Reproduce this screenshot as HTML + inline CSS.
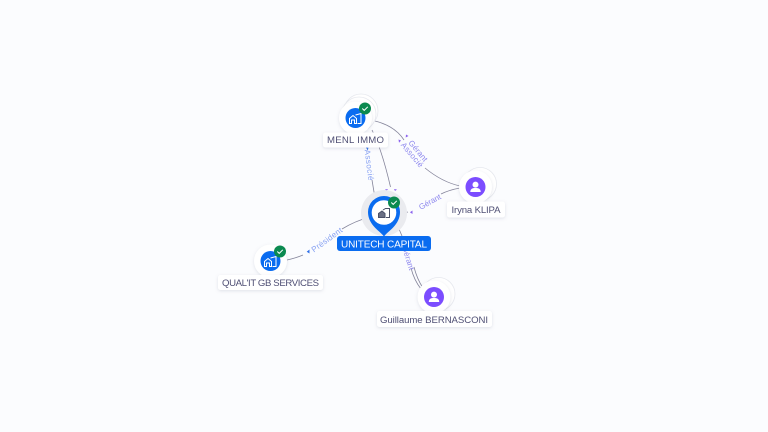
<!DOCTYPE html>
<html><head><meta charset="utf-8">
<style>
html,body{margin:0;padding:0;background:#fbfcfe;width:768px;height:432px;overflow:hidden}
svg{display:block}
text{font-family:"Liberation Sans",sans-serif}
.n{font-size:9.6px;fill:#4f4f74;text-anchor:middle}
.e{font-size:8px;fill:#8f89ee;text-anchor:middle}
.b{font-size:8px;fill:#86a0f2;text-anchor:middle}
.l{fill:none;stroke:#85859b;stroke-width:.8}
</style></head><body>
<svg width="768" height="432" viewBox="0 0 768 432" xmlns="http://www.w3.org/2000/svg">
<defs>
<filter id="s" x="-30%" y="-30%" width="160%" height="160%"><feDropShadow dx="0" dy="1" stdDeviation="1.6" flood-color="#8a8fa8" flood-opacity=".25"/></filter>
<g id="bi" fill="none" stroke="#fff" stroke-width="1"><path d="M-6 5V0L-2.500-3 1 0V5H-1V1.500H-4V5Z"/><path d="M0-3.500 5.500-5V5H2"/></g>
<g id="ok"><circle r="6" fill="#0b8a50"/><path d="M-2.700 0 -.8 1.900 2.800-1.700" fill="none" stroke="#fff" stroke-width="1"/></g>
<g id="pi"><circle r="10" fill="#7c4dff"/><circle cy="-2.400" r="3" fill="#fff"/><path d="M-5.200 5C-5.200 1.800-3 1-0 1S5.200 1.800 5.200 5Z" fill="#fff"/></g>
</defs>

<path class="l" d="M372 180 375 198"/>
<path class="l" d="M372 130Q382 150 390.500 187"/>
<path class="l" d="M375 121Q395 126 404 140"/>
<path class="l" d="M425 168Q442 182 460 186"/>
<path class="l" d="M460 188Q449 190 441 194"/>
<path class="l" d="M408 212 399 214"/>
<path class="l" d="M287 260Q296 258 303 255"/>
<path class="l" d="M342 229Q355 221 370 217"/>
<path class="l" d="M396 222 402 236"/>
<path class="l" d="M411 268Q414 280 421 289"/>
<path class="l" d="M414 267Q417 279 423 288"/>

<g fill="#8b62ee">
<path d="M406 134.500l2.500 1.500-2.800 1.500Z"/><path d="M398.500 139.500l2.500 1-2 2.200Z"/>
<path d="M412.500 210.500v3.500l-2.600-1.700Z"/>
<path d="M385 189.500l3-.5-1.500 2Z"/><path d="M394 189l3 .5-2 1.500Z"/>
</g>
<path d="M309.500 249.500v4l-2.800-1.700Z" fill="#2f6fe8"/>
<path d="M366 147.500l2.500.3-.8 2.700Z" fill="#2f6fe8"/>

<text class="b" transform="translate(369 165) rotate(83)" dy="2.500" textLength="31">Associé</text>
<text class="e" transform="translate(418 151) rotate(50)" dy="2.500" textLength="25">Gérant</text>
<text class="e" transform="translate(412 155) rotate(50)" dy="2.500" textLength="30">Associé</text>
<text class="e" transform="translate(430 202) rotate(-29)" dy="2.500" textLength="24">Gérant</text>
<text class="b" transform="translate(327 240) rotate(-36)" dy="2.500" textLength="36">Président</text>
<text class="e" transform="translate(408 258) rotate(73)" dy="2.500" textLength="25">Gérant</text>

<!-- MENL -->
<circle cx="361" cy="111" r="17" fill="#fff" stroke="#e6e8ee" stroke-width=".8"/>
<circle cx="359" cy="114" r="17" fill="#fff" stroke="#e6e8ee" stroke-width=".8"/>
<circle cx="355.500" cy="118" r="16.500" fill="#fff" filter="url(#s)"/>
<circle cx="355.500" cy="118" r="10" fill="#0a6cf0"/>
<use href="#bi" x="355.500" y="118.500"/>
<use href="#ok" x="365" y="108.500"/>
<rect x="323" y="132.500" width="65" height="15" rx="2.500" fill="#fff" filter="url(#s)"/>
<text class="n" x="355.500" y="143" textLength="57">MENL IMMO</text>

<!-- Iryna -->
<circle cx="480" cy="184" r="16.500" fill="#fff" stroke="#e6e8ee" stroke-width=".8"/>
<circle cx="475.500" cy="187" r="16.500" fill="#fff" filter="url(#s)"/>
<use href="#pi" x="475.500" y="187"/>
<rect x="447" y="201.500" width="58" height="16" rx="2.500" fill="#fff" filter="url(#s)"/>
<text class="n" x="476" y="213" textLength="49">Iryna KLIPA</text>

<!-- Unitech -->
<circle cx="384" cy="213" r="23" fill="#eaebef"/>
<path d="M384 236.500C380 231 368 225 368 212A16 16 0 0 1 400 212C400 225 388 231 384 236.500Z" fill="#0a6cf0"/>
<circle cx="384" cy="212.500" r="12.300" fill="#fff"/>
<g transform="translate(384 213)" fill="none" stroke="#4a5068" stroke-width="1"><path d="M-5.500 4.500V.5L-2 -2 1 .5V4.500Z" fill="#6a6f84"/><path d="M-1 -3 1.500 -4.500H5.500V4.500H2"/></g>
<use href="#ok" x="394" y="202.500"/>
<rect x="337" y="236" width="94" height="15" rx="3" fill="#0a6cf0"/>
<text x="384" y="247.500" font-size="10" fill="#fff" text-anchor="middle" textLength="86">UNITECH CAPITAL</text>

<!-- Qualit -->
<circle cx="270.500" cy="261" r="16.500" fill="#fff" filter="url(#s)"/>
<circle cx="270.500" cy="261" r="10" fill="#0a6cf0"/>
<use href="#bi" x="270.500" y="261.500"/>
<use href="#ok" x="280" y="251.500"/>
<rect x="218" y="275" width="105" height="15" rx="2.500" fill="#fff" filter="url(#s)"/>
<text class="n" x="270.500" y="286" textLength="97">QUAL'IT GB SERVICES</text>

<!-- Guillaume -->
<circle cx="438.500" cy="294" r="16.500" fill="#fff" stroke="#e6e8ee" stroke-width=".8"/>
<circle cx="434" cy="297" r="16.500" fill="#fff" filter="url(#s)"/>
<use href="#pi" x="434" y="297"/>
<rect x="377" y="311" width="115" height="16" rx="2.500" fill="#fff" filter="url(#s)"/>
<text class="n" x="434" y="323" textLength="108">Guillaume BERNASCONI</text>
</svg>
</body></html>
